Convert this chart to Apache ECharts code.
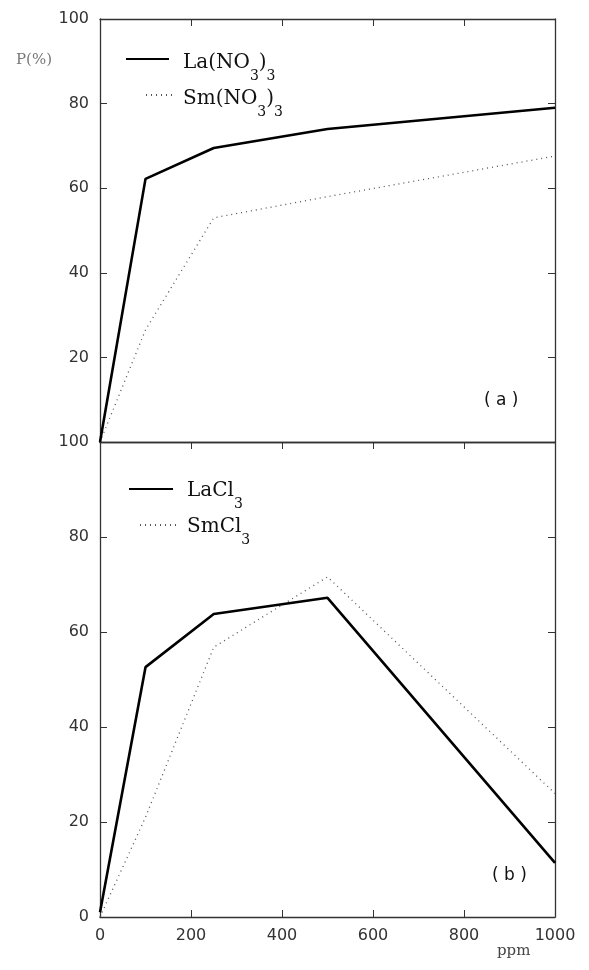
<!DOCTYPE html>
<html>
<head>
<meta charset="utf-8">
<script src="https://cdn.jsdelivr.net/npm/echarts@6/dist/echarts.min.js"></script>
<style>
  html, body { margin: 0; padding: 0; background: #fff; }
  #chart { width: 589px; height: 970px; }
</style>
</head>
<body>
<div id="chart"></div>
<script>
// 浓度 (ppm)
var ppm = [0, 100, 250, 500, 1000];
// (a) 硝酸盐
var laNO3 = [0, 62.2, 69.5, 74, 79];
var smNO3 = [0, 26.5, 53, 58, 67.6];
// (b) 氯化物
var laCl3 = [1, 52.6, 63.8, 67.2, 11.4];
var smCl3 = [0, 21, 56.8, 71.6, 26];

function pairs(ys) {
  return ppm.map(function (x, i) { return [x, ys[i]]; });
}

var axisColor = '#333';
var tickFont = { color: '#333', fontFamily: 'DejaVu Sans', fontSize: 16 };
var legendText = {
  'La(NO3)3': '{n|La(NO}{s|3}{n|)}{s|3}',
  'Sm(NO3)3': '{n|Sm(NO}{s|3}{n|)}{s|3}',
  'LaCl3': '{n|LaCl}{s|3}',
  'SmCl3': '{n|SmCl}{s|3}'
};

// a: 正文下移量
function makeLegend(name, left, top, w, gap, a) {
  return {
    data: [name],
    left: left,
    top: top,
    itemWidth: w,
    itemHeight: 14,
    padding: 0,
    selectedMode: false,
    itemStyle: { opacity: 0 },
    formatter: function (n) { return '{g|}' + legendText[n]; },
    textStyle: {
      rich: {
        g: { width: gap },
        n: { fontFamily: 'DejaVu Serif', fontSize: 20, lineHeight: 24, padding: [a, 0, 0, 0], verticalAlign: 'top', color: '#111' },
        s: { fontFamily: 'DejaVu Serif', fontSize: 14, lineHeight: 12, padding: [a + 16, 0, 0, 0], verticalAlign: 'top', color: '#111' }
      }
    }
  };
}

function valueX(grid, pos, opts) {
  return Object.assign({
    type: 'value', gridIndex: grid, position: pos,
    min: 0, max: 1000, interval: 200,
    axisLine: { show: true, onZero: false, lineStyle: { color: axisColor, width: 1.3 } },
    axisTick: { show: true, inside: true, length: 7, lineStyle: { color: axisColor } },
    axisLabel: { show: false },
    splitLine: { show: false }
  }, opts || {});
}

function valueY(grid, pos, opts) {
  return Object.assign({
    type: 'value', gridIndex: grid, position: pos,
    min: 0, max: 100, interval: 20,
    axisLine: { show: true, onZero: false, lineStyle: { color: axisColor, width: 1.3 } },
    axisTick: { show: true, inside: true, length: 7, lineStyle: { color: axisColor } },
    axisLabel: { show: false },
    splitLine: { show: false }
  }, opts || {});
}

var solid = { color: '#000', width: 2.6 };
var dotted = { color: '#555', width: 1.3, type: [1, 4] };

var chart = echarts.init(document.getElementById('chart'));
chart.setOption({
  animation: false,
  backgroundColor: '#fff',
  grid: [
    { left: 100, top: 19, width: 455, height: 423 },
    { left: 100, top: 442, width: 455, height: 475 }
  ],
  xAxis: [
    valueX(0, 'bottom', { axisTick: { show: false } }),
    valueX(0, 'top'),
    valueX(1, 'bottom', {
      axisLabel: Object.assign({ show: true, margin: 11, formatter: function (v) { return String(v); } }, tickFont)
    }),
    valueX(1, 'top')
  ],
  yAxis: [
    valueY(0, 'left', { axisLabel: Object.assign({ show: true, margin: 11, showMinLabel: false }, tickFont) }),
    valueY(0, 'right'),
    valueY(1, 'left', { axisLabel: Object.assign({ show: true, margin: 11 }, tickFont) }),
    valueY(1, 'right')
  ],
  legend: [
    makeLegend('La(NO3)3', 125, 47, 43, 9, 6),
    makeLegend('Sm(NO3)3', 145, 83, 28, 4, 6),
    makeLegend('LaCl3', 128, 477, 44, 9, 4),
    makeLegend('SmCl3', 139, 513, 39, 3, 4)
  ],
  series: [
    { name: 'La(NO3)3', type: 'line', xAxisIndex: 0, yAxisIndex: 0, data: pairs(laNO3), symbol: 'none', lineStyle: solid, itemStyle: { color: '#000' }, z: 3 },
    { name: 'Sm(NO3)3', type: 'line', xAxisIndex: 0, yAxisIndex: 0, data: pairs(smNO3), symbol: 'none', lineStyle: dotted, itemStyle: { color: '#555' }, z: 2 },
    { name: 'LaCl3', type: 'line', xAxisIndex: 2, yAxisIndex: 2, data: pairs(laCl3), symbol: 'none', lineStyle: solid, itemStyle: { color: '#000' }, z: 3 },
    { name: 'SmCl3', type: 'line', xAxisIndex: 2, yAxisIndex: 2, data: pairs(smCl3), symbol: 'none', lineStyle: dotted, itemStyle: { color: '#555' }, z: 2 }
  ],
  graphic: [
    { type: 'text', left: 16, top: 53, style: { text: 'P(%)', fontFamily: 'DejaVu Serif', fontSize: 15, fill: '#777' } },
    { type: 'text', left: 497, top: 944, style: { text: 'ppm', fontFamily: 'DejaVu Serif', fontSize: 15, fill: '#444' } },
    { type: 'text', left: 484, top: 392, style: { text: '( a )', fontFamily: 'DejaVu Sans', fontSize: 17, fill: '#111' } },
    { type: 'text', left: 492, top: 867, style: { text: '( b )', fontFamily: 'DejaVu Sans', fontSize: 17, fill: '#111' } }
  ]
});
</script>
</body>
</html>
